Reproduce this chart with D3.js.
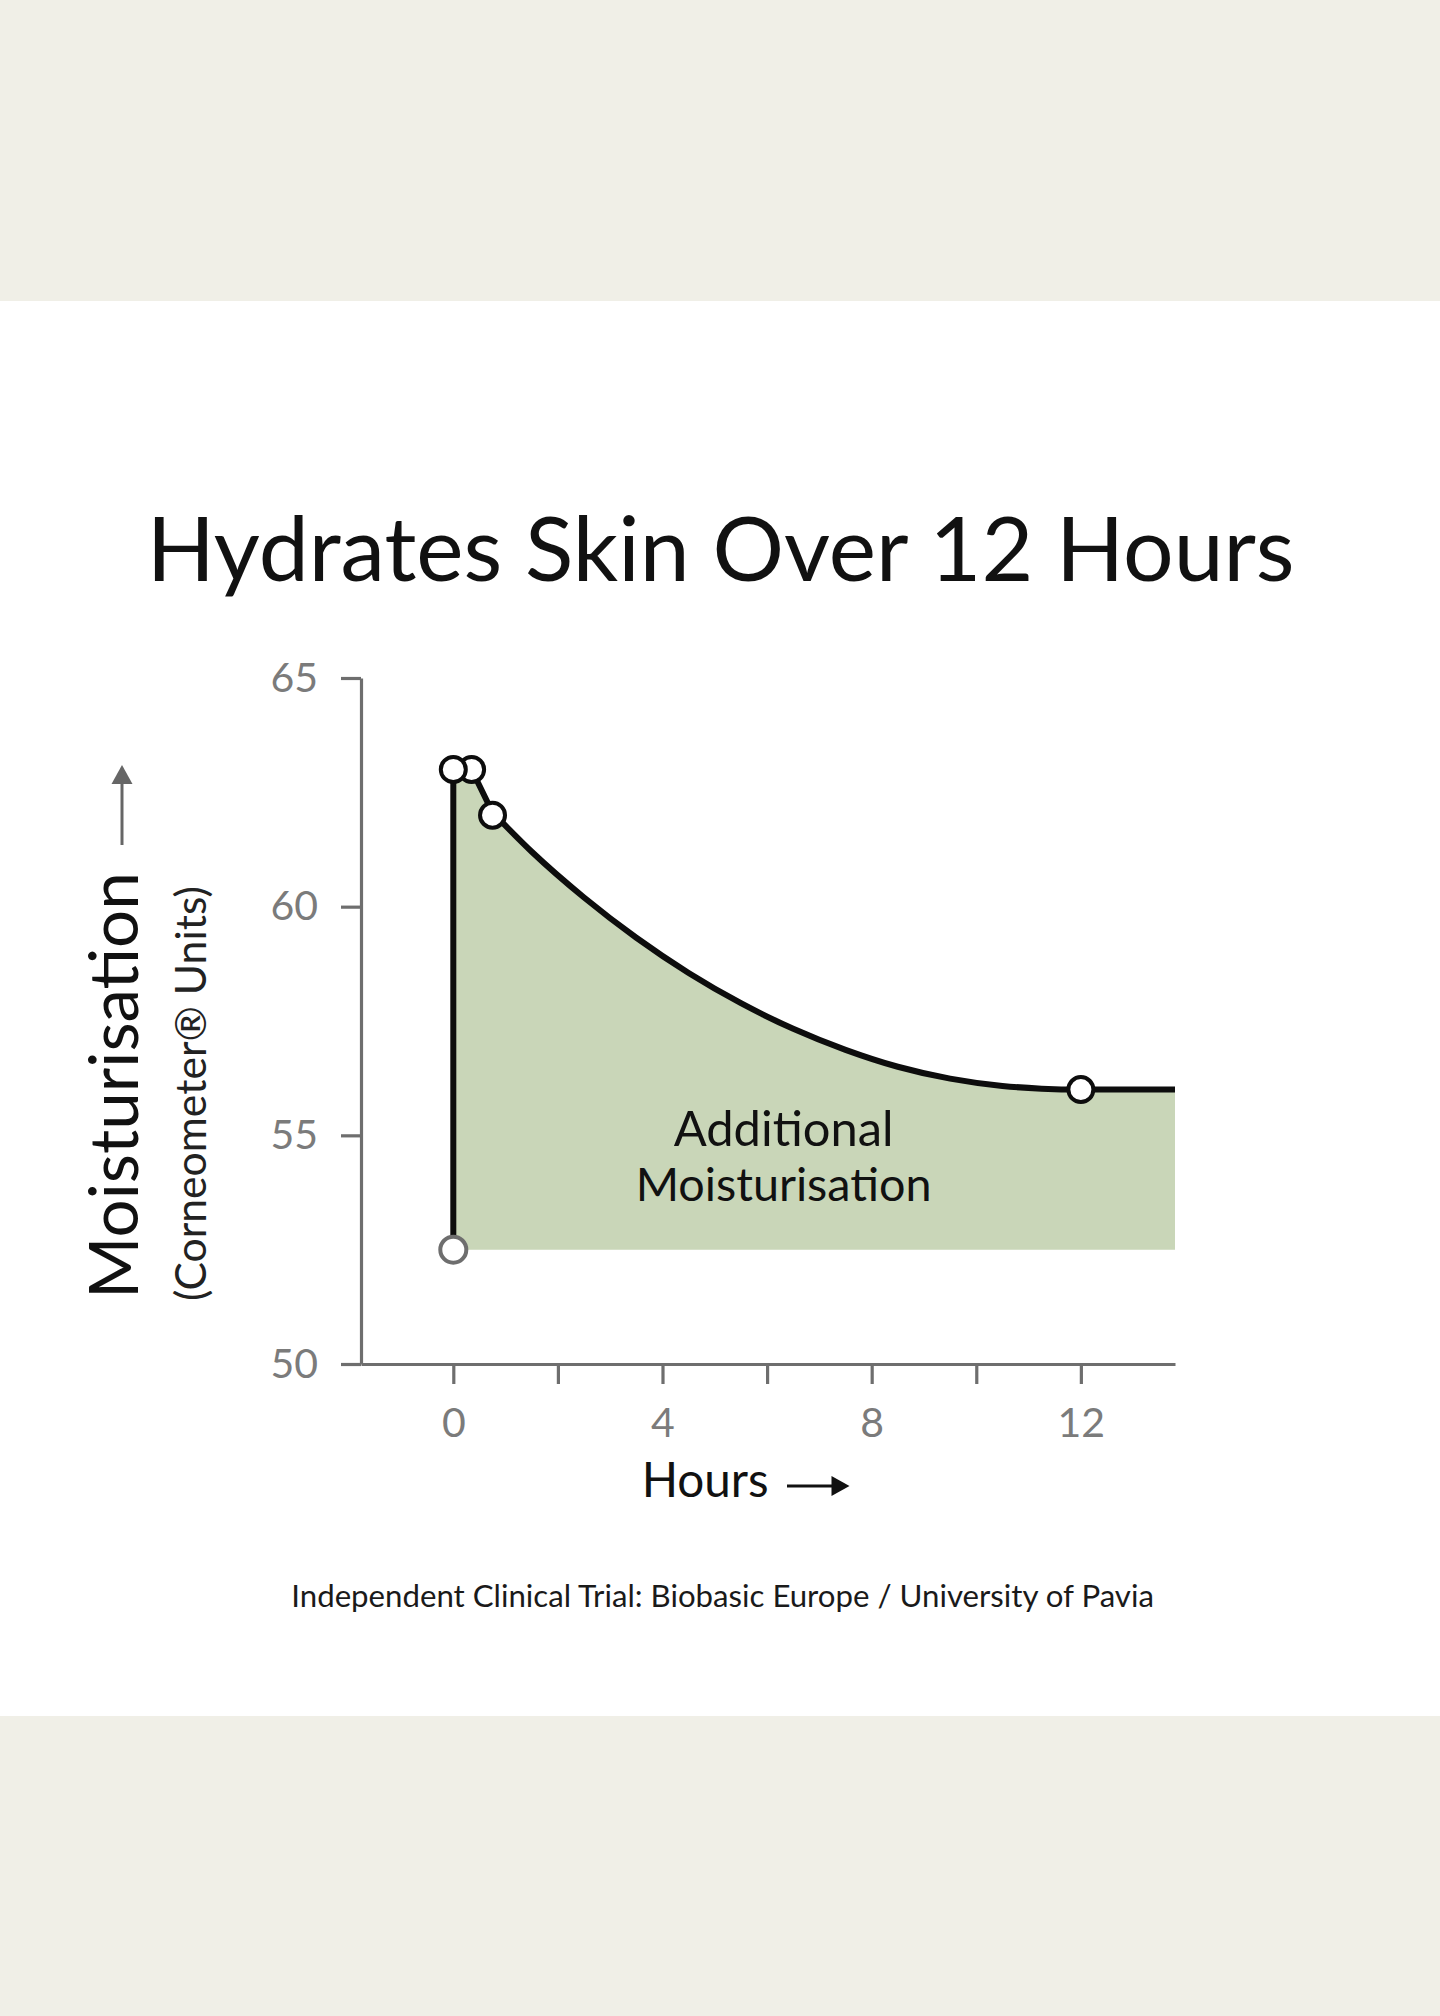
<!DOCTYPE html>
<html>
<head>
<meta charset="utf-8">
<script src="https://cdn.jsdelivr.net/npm/d3@7"></script>
<style>
  html, body { margin: 0; padding: 0; background: #ffffff; }
  svg { display: block; }
  text { font-family: Lato, "Open Sans", sans-serif; }
</style>
</head>
<body>
<svg id="chart" width="1440" height="2016"></svg>
<script>
// ---------------- data ----------------
const title = "Hydrates Skin Over 12 Hours";
const yLabel = "Moisturisation";
const ySubLabel = "(Corneometer® Units)";
const xLabel = "Hours";
const areaLabel = ["Additional", "Moisturisation"];
const footer = "Independent Clinical Trial: Biobasic Europe / University of Pavia";

const yTicks = [50, 55, 60, 65];
const xTicks = [0, 2, 4, 6, 8, 10, 12];
const xTickLabels = ["0", "", "4", "", "8", "", "12"];

// curve (hours, corneometer units)
const curveHours = [0, 0.35, 0.75, 1.5, 2.5, 3.5, 4.5, 5.5, 6.5, 7.5, 8.5, 9.5, 10.5, 11.25, 12];
const curveValues = [63, 63, 62.06, 61.2, 60.2, 59.32, 58.55, 57.89, 57.33, 56.87, 56.5, 56.24, 56.08, 56.02, 56];
// measured markers
const markerHours = [0.35, 0, 0.75, 12];
const markerValues = [63, 63, 62, 56];
const baselineHour = 0;
const baselineValue = 52.5;

// ---------------- setup ----------------
const svg = d3.select("#chart");
const W = 1440, H = 2016;
const bandColor = "#f0efe7";
const axisColor = "#6e6e6e";
const tickTextColor = "#7b7b7b";
const fillColor = "#c9d6b8";
const ink = "#0d0d0d";

svg.append("rect").attr("x", 0).attr("y", 0).attr("width", W).attr("height", H).attr("fill", "#ffffff");
svg.append("rect").attr("x", 0).attr("y", 0).attr("width", W).attr("height", 301).attr("fill", bandColor);
svg.append("rect").attr("x", 0).attr("y", 1716).attr("width", W).attr("height", H - 1716).attr("fill", bandColor);

const x = d3.scaleLinear().domain([-1.765, 13.8]).range([361, 1175]);
const y = d3.scaleLinear().domain([50, 65]).range([1364, 678]);

function fit(sel, size, target) {
  sel.attr("font-size", size);
  const w = sel.node().getComputedTextLength();
  sel.attr("font-size", size * target / w);
  return sel;
}

// title
fit(svg.append("text").attr("x", 720.6).attr("y", 581).attr("text-anchor", "middle")
  .attr("fill", "#111").text(title), 88, 1148);

// ---------------- area + line ----------------
const pts = curveHours.map((h, i) => [h, curveValues[i]]);
const endHour = x.domain()[1];
const lastVal = curveValues[curveValues.length - 1];
const headPts = pts.slice(0, 3);
const tailPts = pts.slice(2).concat([[endHour, lastVal]]);

const lineLin = d3.line().x(d => x(d[0])).y(d => y(d[1]));
const lineMono = d3.line().x(d => x(d[0])).y(d => y(d[1])).curve(d3.curveMonotoneX);

const headStr = lineLin(headPts);
const tailStr = lineMono(tailPts).replace(/^M/, "L");
const areaStr = headStr + tailStr +
  "L" + x(endHour) + "," + y(baselineValue) +
  "L" + x(baselineHour) + "," + y(baselineValue) + "Z";

svg.append("path").attr("d", areaStr).attr("fill", fillColor);

// axes
const yAxis = d3.axisLeft(y).tickValues(yTicks).tickSize(20).tickSizeOuter(0).tickPadding(23);
const gy = svg.append("g").attr("transform", "translate(361,0)").call(yAxis);
gy.select(".domain").attr("stroke", axisColor).attr("stroke-width", 3.2);
gy.selectAll(".tick line").attr("stroke", axisColor).attr("stroke-width", 3.2);
gy.selectAll(".tick text").attr("fill", tickTextColor).attr("font-size", 41)
  .attr("font-family", "Lato, sans-serif");

const xAxis = d3.axisBottom(x).tickValues(xTicks).tickSize(20).tickSizeOuter(0).tickPadding(24)
  .tickFormat((d, i) => xTickLabels[i]);
const gx = svg.append("g").attr("transform", "translate(0,1364)").call(xAxis);
gx.select(".domain").attr("stroke", axisColor).attr("stroke-width", 3.2);
gx.selectAll(".tick line").attr("stroke", axisColor).attr("stroke-width", 3.2);
gx.selectAll(".tick text").attr("fill", tickTextColor).attr("font-size", 41)
  .attr("font-family", "Lato, sans-serif");

// vertical jump line at t=0
svg.append("line")
  .attr("x1", x(baselineHour)).attr("x2", x(baselineHour))
  .attr("y1", y(baselineValue)).attr("y2", y(curveValues[0]))
  .attr("stroke", ink).attr("stroke-width", 6);

// curve line
svg.append("path").attr("d", headStr + tailStr)
  .attr("fill", "none").attr("stroke", ink).attr("stroke-width", 6)
  .attr("stroke-linejoin", "round").attr("stroke-linecap", "butt");

// baseline marker
svg.append("circle").attr("cx", x(baselineHour)).attr("cy", y(baselineValue)).attr("r", 13)
  .attr("fill", "#fff").attr("stroke", axisColor).attr("stroke-width", 4);

// markers
svg.selectAll("circle.m").data(markerHours).enter().append("circle")
  .attr("class", "m")
  .attr("cx", d => x(d)).attr("cy", (d, i) => y(markerValues[i])).attr("r", 12.5)
  .attr("fill", "#fff").attr("stroke", ink).attr("stroke-width", 4);

// area label
const midX = 783.6;
fit(svg.append("text").attr("x", midX).attr("y", 1146).attr("text-anchor", "middle")
  .attr("fill", "#111").text(areaLabel[0]), 45, 220);
fit(svg.append("text").attr("x", midX).attr("y", 1201).attr("text-anchor", "middle")
  .attr("fill", "#111").text(areaLabel[1]), 45, 296);

// y label
fit(svg.append("text").attr("transform", "translate(138,1299) rotate(-90)")
  .attr("fill", "#111").text(yLabel), 64, 427);
const sub = svg.append("text").attr("transform", "translate(206,1301) rotate(-90)")
  .attr("fill", "#222").text(ySubLabel);
fit(sub, 36, 415);

// y arrow
svg.append("line").attr("x1", 122).attr("x2", 122).attr("y1", 845).attr("y2", 782)
  .attr("stroke", "#666").attr("stroke-width", 3);
svg.append("path").attr("d", "M122,765 L132.5,784 L111.5,784 Z").attr("fill", "#666");

// x label
fit(svg.append("text").attr("x", 641.7).attr("y", 1497).attr("fill", "#111").text(xLabel), 48, 127);
svg.append("line").attr("x1", 787).attr("x2", 834).attr("y1", 1486).attr("y2", 1486)
  .attr("stroke", "#111").attr("stroke-width", 3);
svg.append("path").attr("d", "M849.5,1486 L831.5,1476 L831.5,1496 Z").attr("fill", "#111");

// footer
fit(svg.append("text").attr("x", 722.6).attr("y", 1607).attr("text-anchor", "middle")
  .attr("fill", "#1a1a1a").text(footer), 26, 863);
</script>
</body>
</html>
